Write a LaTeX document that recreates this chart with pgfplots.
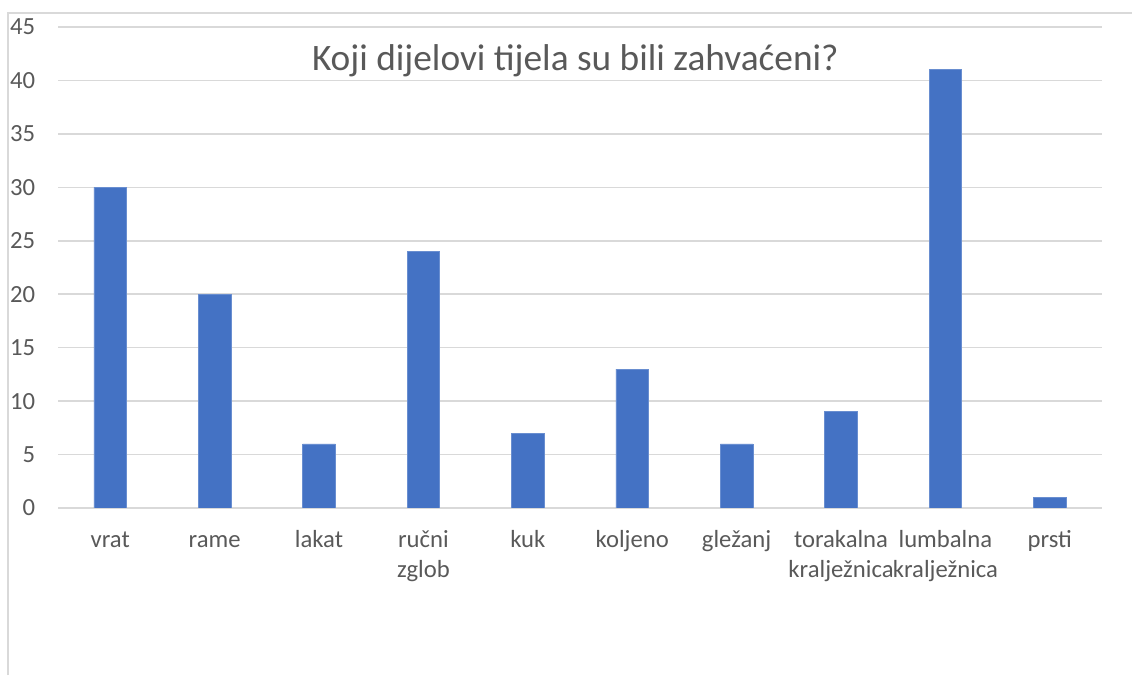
\documentclass[border=0pt]{standalone}
\usepackage{fontspec}
\setmainfont{Carlito}
\usepackage{pgfplots}
\pgfplotsset{compat=1.18}
\definecolor{barblue}{HTML}{4472C4}
\definecolor{txtgray}{HTML}{595959}
\definecolor{gridgray}{HTML}{D9D9D9}

\begin{document}
\begin{tikzpicture}
  % canvas 1132x675 px at 0.75pt per px
  \useasboundingbox (0,0) rectangle (849pt,506.25pt);
  \draw[gridgray, line width=1pt] (6pt,0) -- (6pt,496.5pt) -- (849pt,496.5pt);
  \begin{axis}[
    at={(43.5pt,125.25pt)},
    anchor=south west,
    scale only axis,
    width=783pt,
    height=360.75pt,
    ybar,
    bar width=24.5pt,
    xmin=-0.5, xmax=9.5,
    ymin=0, ymax=45,
    ytick={0,5,...,45},
    xtick=data,
    xticklabels={\strut vrat, \strut rame, \strut lakat, {\strut ručni\\zglob},
      \strut kuk, \strut koljeno, \strut gležanj,
      {\strut torakalna\\kralježnica}, {\strut lumbalna\\kralježnica}, \strut prsti},
    axis line style={draw=none},
    major tick length=0pt,
    ymajorgrids,
    grid style={gridgray, line width=1.1pt},
    tick label style={font=\fontsize{18.5}{22.5}\selectfont, text=txtgray},
    /pgf/number format/assume math mode=true,
    yticklabel style={anchor=east, inner sep=0pt, xshift=-17pt},
    xticklabel style={anchor=north, align=center, inner sep=0pt, yshift=-14pt},
  ]
  \addplot[fill=barblue, draw=barblue!80!white, line width=0.5pt] coordinates {
    (0,30) (1,20) (2,6) (3,24) (4,7) (5,13) (6,6) (7,9) (8,41) (9,1)
  };
  \end{axis}
  \node[text=txtgray, font=\fontsize{28}{33}\selectfont, anchor=center]
    at (431.5pt,461pt) {Koji dijelovi tijela su bili zahvaćeni?};
\end{tikzpicture}
\end{document}
